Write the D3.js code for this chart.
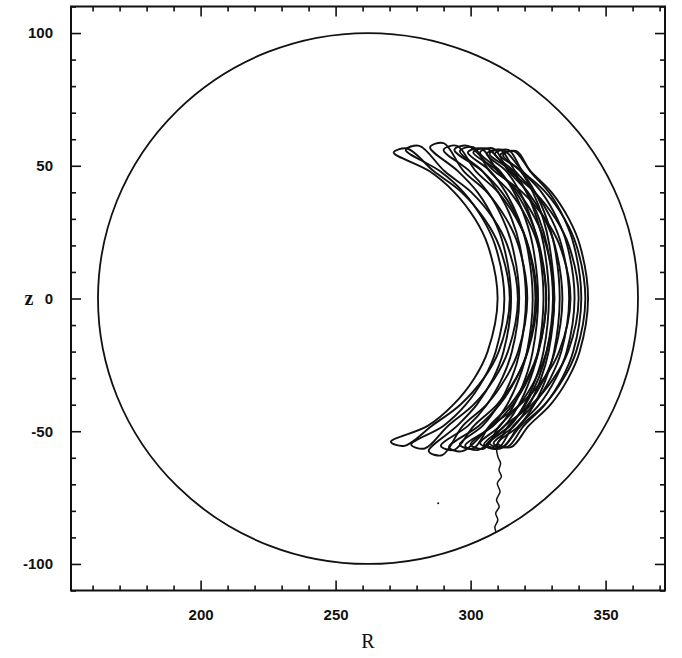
<!DOCTYPE html>
<html>
<head>
<meta charset="utf-8">
<script src="https://cdn.jsdelivr.net/npm/d3@7"></script>
<style>
  html, body { margin: 0; padding: 0; background: #fff; }
  svg { display: block; }
</style>
</head>
<body>
<svg id="chart" width="682" height="658"></svg>
<script>
// ---------- data ----------
const xDomain = [152, 372];
const yDomain = [110, -110];
const xMajorTicks = [200, 250, 300, 350];
const xMinorTicks = [160,170,180,190,210,220,230,240,260,270,280,290,310,320,330,340,360,370];
const yMajorTicks = [-100, -50, 0, 50, 100];
const yMinorTicks = [-110,-90,-80,-70,-60,-40,-30,-20,-10,10,20,30,40,60,70,80,90,110];
const xLabel = "R";
const yLabel = "z";

// vessel wall: centre (R, z) and radius
const wallCentre = [262, 0];
const wallRadius = 100;

// banana orbits, each a closed loop of [R, z] points
const orbit1  = [[271.5,55],[276.5,56.5],[286.3,48],[296.7,40],[305.1,30],[310.5,20],[314.5,0],[310.4,-20],[304.9,-30],[296.2,-40],[285.6,-48],[275.5,-55.5],[270.5,-54],[284.1,-48],[293.6,-40],[301.4,-30],[306.3,-20],[310,0],[306.4,20],[301.6,30],[294.0,40],[284.7,48]];
const orbit2  = [[276,56],[281,57.5],[290.3,48],[300.3,40],[308.5,30],[313.6,20],[317.5,0],[313.8,-20],[308.9,-30],[301.1,-40],[291.6,-48],[283,-56.5],[278,-55],[289.9,-48],[298.2,-40],[305,-30],[309.3,-20],[312.5,0],[309.1,20],[304.5,30],[297.4,40],[288.6,48]];
const orbit3  = [[285,57],[290,58.5],[297.4,48],[306.1,40],[313.2,30],[317.7,20],[321,0],[317.6,-20],[313,-30],[305.9,-40],[297.1,-48],[289.5,-59],[284.5,-57.5],[295,-48],[302.3,-40],[308.4,-30],[312.2,-20],[315,0],[312.2,20],[308.5,30],[302.6,40],[295.3,48]];
const orbit4  = [[290,56],[295,57.5],[301.9,48],[310.2,40],[317,30],[321.3,20],[324.5,0],[321.2,-20],[316.8,-30],[309.8,-40],[301.2,-48],[294,-57],[289,-55.5],[299,-48],[306,-40],[311.7,-30],[315.3,-20],[318,0],[315.4,20],[311.9,30],[306.4,40],[299.6,48]];
const orbit5  = [[296,55.5],[301,57],[307,48],[314.7,40],[321,30],[325,20],[328,0],[325,-20],[321,-30],[314.7,-40],[307,-48],[301,-56.5],[296,-55],[304.4,-48],[310.3,-40],[315.2,-30],[318.2,-20],[320.5,0],[318.2,20],[315.2,30],[310.3,40],[304.4,48]];
const orbit6  = [[299,55],[304,56.5],[310,48],[317.7,40],[324,30],[328,20],[331,0],[328.1,-20],[324.2,-30],[318.1,-40],[310.7,-48],[305,-56.5],[300,-55],[307.9,-48],[313.5,-40],[318,-30],[320.9,-20],[323,0],[320.8,20],[317.8,30],[313,40],[307.3,48]];
const orbit7  = [[303.5,55],[308.5,56.5],[314,48],[321.3,40],[327.4,30],[331.2,20],[334,0],[331.2,-20],[327.4,-30],[321.3,-40],[314,-48],[308.5,-56],[303.5,-54.5],[310.9,-48],[316.1,-40],[320.3,-30],[323,-20],[325,0],[323,20],[320.3,30],[316.1,40],[310.9,48]];
const orbit8  = [[306,54.5],[311,56],[316.5,48],[323.8,40],[329.9,30],[333.7,20],[336.5,0],[333.6,-20],[329.6,-30],[323.4,-40],[315.8,-48],[310,-56.5],[305,-55],[312.6,-48],[317.9,-40],[322.2,-30],[325,-20],[327,0],[325.1,20],[322.4,30],[318.3,40],[313.2,48]];
const orbit9  = [[309,54.5],[314,56],[319.2,48],[326.3,40],[332.1,30],[335.8,20],[338.5,0],[335.6,-20],[331.6,-30],[325.4,-40],[317.8,-48],[312,-56],[307,-54.5],[314.6,-48],[319.9,-40],[324.2,-30],[327,-20],[329,0],[327.1,20],[324.6,30],[320.7,40],[315.9,48]];
const orbit10 = [[312,54],[317,55.5],[322,48],[329,40],[334.7,30],[338.3,20],[341,0],[338,-20],[333.9,-30],[327.5,-40],[319.7,-48],[313.5,-56],[308.5,-54.5],[316.2,-48],[321.7,-40],[326.1,-30],[328.9,-20],[331,0],[329.2,20],[326.9,30],[323.1,40],[318.5,48]];
const orbit11 = [[311,54],[316,55.5],[322.2,48],[330,40],[336.4,30],[340.5,20],[343.5,0],[340.4,-20],[336.2,-30],[329.6,-40],[321.5,-48],[315,-56],[310,-54.5],[317.9,-48],[323.5,-40],[328,-30],[330.9,-20],[333,0],[331,20],[328.2,30],[323.9,40],[318.6,48]];
const orbit12 = [[301,55],[306,56.5],[314.4,48],[323.8,40],[331.5,30],[336.4,20],[340,0],[336.1,-20],[330.8,-30],[322.6,-40],[312.5,-48],[303,-57],[298,-55.5],[308.3,-48],[315.6,-40],[321.5,-30],[325.2,-20],[328,0],[325.5,20],[322.1,30],[316.8,40],[310.3,48]];
const orbit13 = [[294,56],[299,57.5],[308.8,48],[319.2,40],[327.6,30],[333,20],[337,0],[332.8,-20],[327.2,-30],[318.3,-40],[307.5,-48],[297,-57.5],[292,-56],[303,-48],[310.7,-40],[317,-30],[321,-20],[324,0],[321.2,20],[317.5,30],[311.6,40],[304.3,48]];
const orbit14 = [[307,54.5],[312,56],[319.2,48],[327.8,40],[334.8,30],[339.2,20],[342.5,0],[339.1,-20],[334.5,-30],[327.4,-40],[318.6,-48],[311,-56.5],[306,-55],[314.4,-48],[320.3,-40],[325.2,-30],[328.2,-20],[330.5,0],[328.3,20],[325.4,30],[320.8,40],[315.1,48]];
const orbits = [orbit1, orbit2, orbit3, orbit4, orbit5, orbit6, orbit7, orbit8, orbit9, orbit10, orbit11, orbit12, orbit13, orbit14];

// final escape path to the wall
const escapePath = [[310,-54.5],[309.6,-56.4],[310.1,-59.6],[311.1,-62.1],[310.5,-64.6],[311.4,-67.1],[309.9,-69.6],[310.9,-72.8],[309.6,-75.9],[310.6,-78.4],[309.3,-80.9],[310.1,-83.4],[309,-86],[309.4,-88]];
// stray point
const strayPoints = [[288, -77.1]];

// ---------- drawing ----------
const svg = d3.select("#chart");
const x = d3.scaleLinear().domain(xDomain).range([71, 665]);
const y = d3.scaleLinear().domain(yDomain).range([6.5, 590.5]);
const ink = "#111";

const fontTick = "'Liberation Sans', Arial, sans-serif";
const fontTitle = "'Liberation Serif', 'DejaVu Serif', serif";
const fmt = d => String(d);

function styleAxis(g, labelled) {
  g.select(".domain").remove();
  g.selectAll(".tick line").attr("stroke", ink).attr("stroke-width", 1.6);
  g.selectAll(".tick text")
    .attr("fill", ink)
    .style("font-family", fontTick)
    .style("font-size", "15px")
    .style("font-weight", "bold");
  if (!labelled) g.selectAll(".tick text").remove();
}

const x0 = x.range()[0], x1 = x.range()[1];
const y0 = y.range()[0], y1 = y.range()[1];

// bottom
svg.append("g").attr("transform", `translate(0,${y1})`)
  .call(d3.axisBottom(x).tickValues(xMajorTicks).tickSize(-10).tickPadding(19).tickFormat(fmt))
  .call(g => styleAxis(g, true));
svg.append("g").attr("transform", `translate(0,${y1})`)
  .call(d3.axisBottom(x).tickValues(xMinorTicks).tickSize(-5).tickFormat(""))
  .call(g => styleAxis(g, false));
// top
svg.append("g").attr("transform", `translate(0,${y0})`)
  .call(d3.axisTop(x).tickValues(xMajorTicks).tickSize(-10).tickFormat(""))
  .call(g => styleAxis(g, false));
svg.append("g").attr("transform", `translate(0,${y0})`)
  .call(d3.axisTop(x).tickValues(xMinorTicks).tickSize(-5).tickFormat(""))
  .call(g => styleAxis(g, false));
// left
svg.append("g").attr("transform", `translate(${x0},0)`)
  .call(d3.axisLeft(y).tickValues(yMajorTicks).tickSize(-10).tickPadding(18).tickFormat(fmt))
  .call(g => styleAxis(g, true));
svg.append("g").attr("transform", `translate(${x0},0)`)
  .call(d3.axisLeft(y).tickValues(yMinorTicks).tickSize(-5).tickFormat(""))
  .call(g => styleAxis(g, false));
// right
svg.append("g").attr("transform", `translate(${x1},0)`)
  .call(d3.axisRight(y).tickValues(yMajorTicks).tickSize(-10).tickFormat(""))
  .call(g => styleAxis(g, false));
svg.append("g").attr("transform", `translate(${x1},0)`)
  .call(d3.axisRight(y).tickValues(yMinorTicks).tickSize(-5).tickFormat(""))
  .call(g => styleAxis(g, false));

// frame
svg.append("rect")
  .attr("x", x0).attr("y", y0)
  .attr("width", x1 - x0).attr("height", y1 - y0)
  .attr("fill", "none").attr("stroke", ink).attr("stroke-width", 2);

// axis titles
svg.append("text")
  .attr("x", (x0 + x1) / 2).attr("y", 648)
  .attr("text-anchor", "middle")
  .style("font-family", fontTitle).style("font-size", "20px")
  .attr("fill", ink).text(xLabel);
svg.append("text")
  .attr("x", 29).attr("y", y(0) + 6)
  .attr("text-anchor", "middle")
  .style("font-family", fontTitle).style("font-size", "20px").style("font-weight", "bold")
  .attr("fill", ink).text(yLabel);

// wall
svg.append("ellipse")
  .attr("cx", x(wallCentre[0])).attr("cy", y(wallCentre[1]))
  .attr("rx", x(wallCentre[0] + wallRadius) - x(wallCentre[0]))
  .attr("ry", y(wallCentre[1] - wallRadius) - y(wallCentre[1]))
  .attr("fill", "none").attr("stroke", ink).attr("stroke-width", 1.8);

// orbits
const loopLine = d3.line().x(d => x(d[0])).y(d => y(d[1])).curve(d3.curveCatmullRomClosed.alpha(0.5));
svg.append("g").selectAll("path").data(orbits).join("path")
  .attr("d", loopLine)
  .attr("fill", "none").attr("stroke", ink).attr("stroke-width", 1.9);

const openLine = d3.line().x(d => x(d[0])).y(d => y(d[1])).curve(d3.curveCatmullRom.alpha(0.5));
svg.append("path").datum(escapePath)
  .attr("d", openLine)
  .attr("fill", "none").attr("stroke", ink).attr("stroke-width", 1.5);

svg.append("g").selectAll("circle").data(strayPoints).join("circle")
  .attr("cx", d => x(d[0])).attr("cy", d => y(d[1])).attr("r", 1)
  .attr("fill", ink);
</script>
</body>
</html>
